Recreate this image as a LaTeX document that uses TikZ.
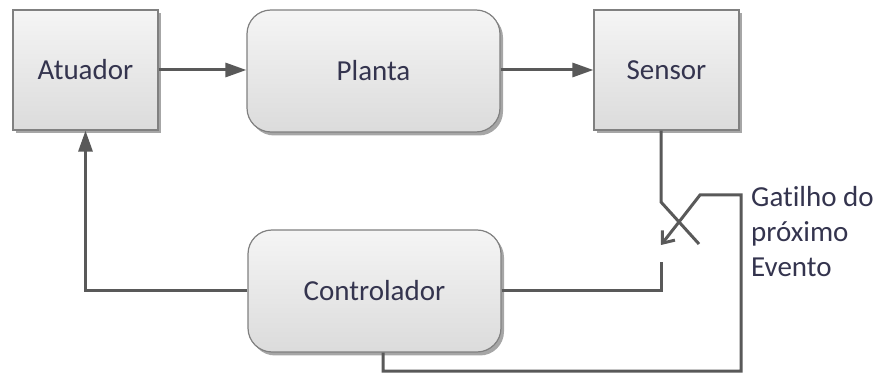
\documentclass[tikz,border=0pt]{standalone}
\usepackage{fontspec}
\setmainfont[Ligatures={NoCommon}]{Carlito}
\usetikzlibrary{arrows.meta,shadows,calc}
\definecolor{linegray}{RGB}{89,89,89}
\definecolor{boxborder}{RGB}{128,128,128}
\definecolor{labeltext}{RGB}{52,52,78}
\tikzset{
  blockbase/.style={draw=boxborder, line width=1.2pt, top color=black!4, bottom color=black!14,
    drop shadow={shadow xshift=3pt, shadow yshift=-3.5pt, opacity=0.35, fill=black},
    text=labeltext, font=\fontsize{29}{34}\selectfont, inner sep=0pt},
  squarebox/.style={blockbase, minimum width=145pt, minimum height=120pt},
  roundbox/.style={blockbase, rounded corners=24pt, minimum width=253pt, minimum height=122pt},
  wire/.style={draw=linegray, line width=3pt},
  flow/.style={wire, -{Triangle[length=21pt,width=14pt]}},
  trigger/.style={wire, -{Straight Barb[length=10pt,width=16pt,line width=3pt]}},
  caption/.style={text=labeltext, font=\fontsize{29}{35}\selectfont, align=left, inner sep=0pt}
}
\begin{document}
\begin{tikzpicture}[x=1pt,y=-1pt]
\useasboundingbox (0,0) rectangle (879,374);

% blocks of the loop
\node[squarebox] (atu) at (85.5,70) {Atuador};
\node[roundbox]  (pla) at (373.5,71) {Planta};
\node[squarebox] (sen) at (666.5,70) {Sensor};
\node[roundbox]  (ctl) at (374.5,291) {Controlador};

% switch contacts
\coordinate (s1) at (661,202);
\coordinate (s2) at (699,244);
\coordinate (t1) at (661,262);
\coordinate (g0) at (383,371);
\coordinate (g1) at (741,195);
\coordinate (g2) at (700,195);
\coordinate (tip) at (661,245);

% forward path
\draw[flow] (atu.east) -- (atu.east -| pla.west);
\draw[flow] (pla.east |- sen.west) -- (sen.west);

% sensor to switch
\draw[wire] (sen.south -| s1) -- (s1) -- (s2);
\draw[wire] (ctl.east) -| (t1);

% feedback to actuator
\draw[flow] (ctl.west) -| (atu.south);

% trigger of the next event
\draw[trigger] (ctl.south -| g0) -- (g0) -| (g1) -- (g2) -- (tip);

\node[caption, anchor=north west] (lbl) at (751,186) {Gatilho do\\próximo\\Evento};
\end{tikzpicture}
\end{document}
